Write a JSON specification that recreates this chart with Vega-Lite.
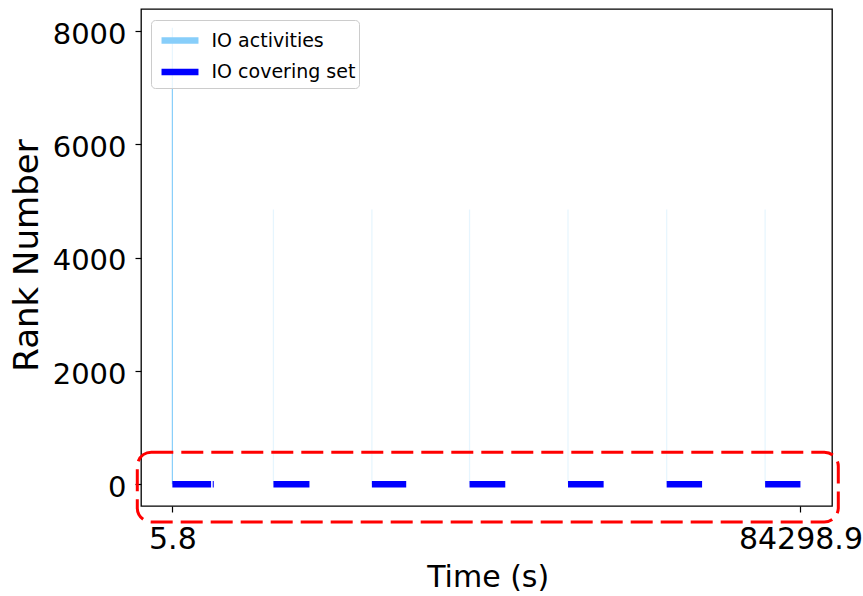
{
  "$schema": "https://vega.github.io/schema/vega-lite/v6.json",
  "width": 691,
  "height": 497,
  "autosize": {"type": "none"},
  "padding": {"left": 141, "top": 9, "right": 31, "bottom": 90},
  "background": "white",
  "config": {
    "font": "DejaVu Sans",
    "view": {"stroke": "#000000", "strokeWidth": 1.3},
    "axis": {"grid": false, "domain": false, "tickColor": "#000000", "tickWidth": 1.2, "tickSize": 6, "labelColor": "#000000", "titleColor": "#000000", "titleFontWeight": "normal", "labelFont": "DejaVu Sans", "titleFont": "DejaVu Sans"}
  },
  "datasets": {
    "activities": [
      {"series": "IO activities", "time": 5.8, "rank_lo": 0, "rank_hi": 8060, "events": 100},
      {"series": "IO activities", "time": 13569, "rank_lo": 0, "rank_hi": 4850, "events": 10},
      {"series": "IO activities", "time": 26783, "rank_lo": 0, "rank_hi": 4850, "events": 10},
      {"series": "IO activities", "time": 39890, "rank_lo": 0, "rank_hi": 4850, "events": 10},
      {"series": "IO activities", "time": 53105, "rank_lo": 0, "rank_hi": 4850, "events": 10},
      {"series": "IO activities", "time": 66345, "rank_lo": 0, "rank_hi": 4850, "events": 10},
      {"series": "IO activities", "time": 79560, "rank_lo": 0, "rank_hi": 4850, "events": 10}
    ],
    "covering": [
      {"series": "IO covering set", "start": 5.8, "end": 5203, "rank": 0},
      {"series": "IO covering set", "start": 5420, "end": 5560, "rank": 0},
      {"series": "IO covering set", "start": 13569, "end": 18403, "rank": 0},
      {"series": "IO covering set", "start": 26783, "end": 31389, "rank": 0},
      {"series": "IO covering set", "start": 39890, "end": 44684, "rank": 0},
      {"series": "IO covering set", "start": 53105, "end": 57886, "rank": 0},
      {"series": "IO covering set", "start": 66345, "end": 71099, "rank": 0},
      {"series": "IO covering set", "start": 79560, "end": 84298.9, "rank": 0}
    ],
    "highlight": [
      {"x0": -4702, "x1": 89381, "y0": -664, "y1": 566}
    ]
  },
  "encoding": {
    "x": {"type": "quantitative"},
    "y": {"type": "quantitative"}
  },
  "resolve": {"scale": {"x": "shared", "y": "shared"}},
  "layer": [
    {
      "data": {"name": "activities"},
      "mark": {"type": "rule", "strokeWidth": 1.2},
      "encoding": {
        "x": {
          "field": "time", "type": "quantitative",
          "scale": {"domain": [-4205, 88535], "nice": false, "zero": false},
          "axis": {
            "values": [5.8, 84298.9], "format": ".1f",
            "labelFontSize": 30, "labelBaseline": "alphabetic", "labelPadding": 36,
            "labelFlush": false, "labelOverlap": false, "labelBound": false,
            "title": "Time (s)", "titleFontSize": 30,
            "titleX": 346.7, "titleY": 80, "titleBaseline": "alphabetic", "titleAlign": "center"
          }
        },
        "y": {
          "field": "rank_lo", "type": "quantitative",
          "scale": {"domain": [-383, 8390], "nice": false, "zero": false},
          "axis": {
            "values": [0, 2000, 4000, 6000, 8000], "format": "d",
            "labelFontSize": 29, "labelBaseline": "alphabetic", "labelOffset": 12.3, "labelPadding": 9,
            "title": "Rank Number", "titleFontSize": 34,
            "titleX": -104, "titleY": 246, "titleBaseline": "alphabetic", "titleAlign": "center", "titleAngle": -90
          }
        },
        "y2": {"field": "rank_hi"},
        "color": {
          "field": "series", "type": "nominal",
          "scale": {"domain": ["IO activities", "IO covering set"], "range": ["#87CEFA", "#0000FF"]},
          "legend": {
            "title": null, "orient": "none", "legendX": 10, "legendY": 11,
            "symbolType": "M-1.32,0H1.32", "symbolSize": 784, "symbolStrokeWidth": 6.5, "symbolOpacity": 1,
            "symbolOffset": 8.5,
            "labelFontSize": 19, "labelFont": "DejaVu Sans", "labelColor": "#000000", "labelOffset": 14,
            "padding": 3, "rowPadding": 0.5,
            "fillColor": "rgba(255,255,255,0.8)", "strokeColor": "#cccccc", "cornerRadius": 4
          }
        },
        "opacity": {"field": "events", "type": "quantitative", "scale": {"domain": [0, 100], "range": [0.12, 1]}, "legend": null}
      }
    },
    {
      "data": {"name": "covering"},
      "mark": {"type": "rule", "strokeWidth": 6.5, "strokeCap": "butt"},
      "encoding": {
        "x": {"field": "start", "type": "quantitative"},
        "x2": {"field": "end"},
        "y": {"field": "rank", "type": "quantitative"},
        "color": {"field": "series", "type": "nominal"}
      }
    },
    {
      "data": {"name": "highlight"},
      "mark": {"type": "rect", "fill": "transparent", "stroke": "#ff0000", "strokeWidth": 3, "strokeDash": [22, 8], "cornerRadius": 14},
      "encoding": {
        "x": {"field": "x0", "type": "quantitative"},
        "x2": {"field": "x1"},
        "y": {"field": "y0", "type": "quantitative"},
        "y2": {"field": "y1"}
      }
    }
  ]
}
